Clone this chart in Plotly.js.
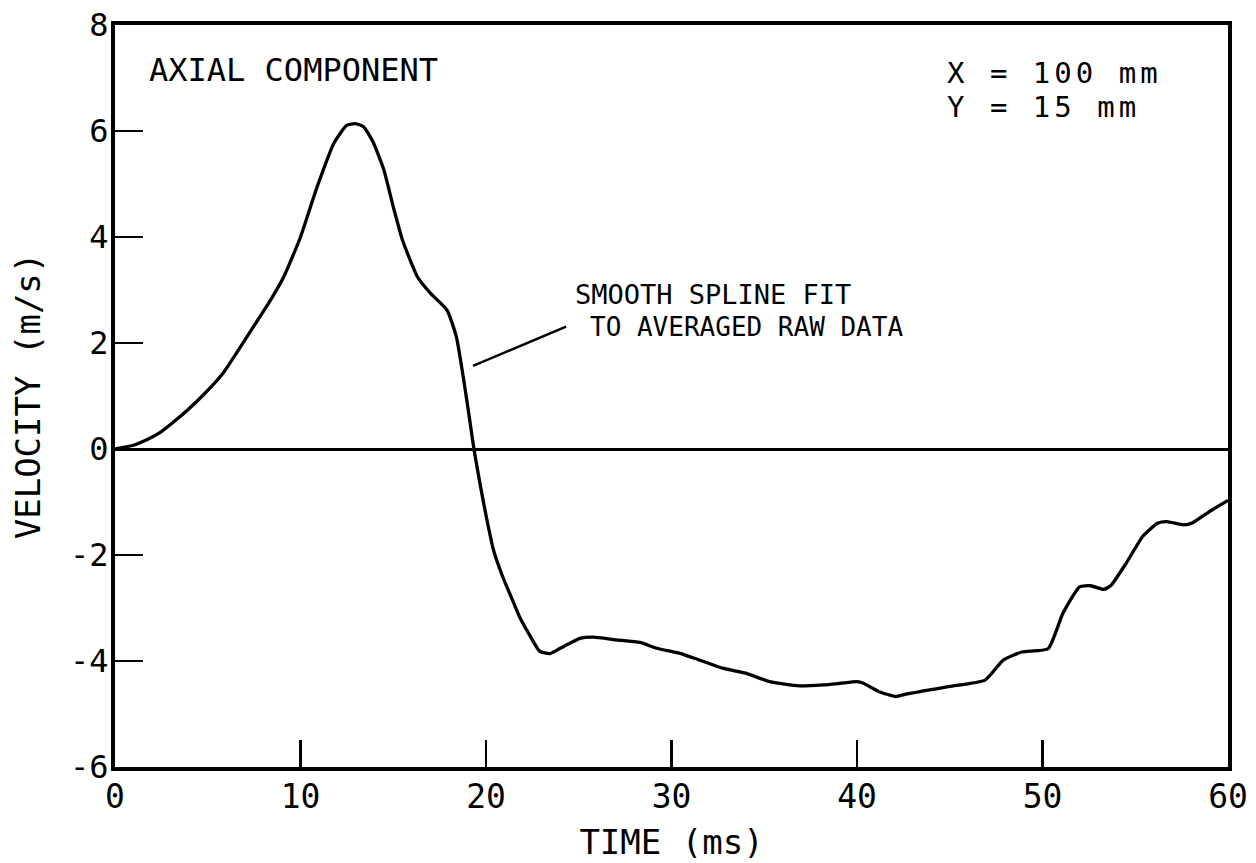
<!DOCTYPE html>
<html>
<head>
<meta charset="utf-8">
<script src="https://cdn.plot.ly/plotly-3.0.1.min.js"></script>
<style>html,body{margin:0;padding:0;background:#fff;}#chart{width:1256px;height:863px;}</style>
</head>
<body>
<div id="chart"></div>
<script>
// Time (ms)
const timeMs = [0, 1, 1.5, 2.5, 3.3, 4.5, 5.8, 7.3, 8.4, 9.1, 10.0, 10.9, 11.8, 12.5, 12.95, 13.4, 13.9, 14.5, 15.0, 15.5, 16.3, 17.0, 17.9, 18.4, 18.8, 19.15, 19.35, 19.7, 20.0, 20.4, 20.9, 21.5, 21.8, 22.4, 22.9, 23.45, 24.0, 25.1, 25.8, 27.0, 28.3, 29.2, 30.5, 31.5, 32.8, 34.0, 35.3, 36.9, 38.2, 39.1, 40.0, 40.35, 41.2, 42.1, 42.7, 43.5, 45.0, 46.9, 47.9, 48.9, 50.3, 51.1, 52.0, 52.6, 53.3, 53.7, 54.5, 55.4, 56.2, 56.7, 57.6, 58.1, 59.0, 60];
// Axial velocity (m/s)
const velocity = [0, 0.07, 0.14, 0.33, 0.55, 0.93, 1.42, 2.22, 2.82, 3.25, 4.0, 4.95, 5.77, 6.11, 6.14, 6.08, 5.8, 5.26, 4.57, 3.94, 3.25, 2.94, 2.62, 2.12, 1.3, 0.48, 0, -0.7, -1.25, -1.9, -2.41, -2.91, -3.16, -3.54, -3.82, -3.86, -3.76, -3.57, -3.55, -3.6, -3.65, -3.76, -3.86, -3.98, -4.14, -4.23, -4.39, -4.47, -4.45, -4.42, -4.39, -4.42, -4.58, -4.67, -4.62, -4.57, -4.48, -4.36, -3.98, -3.83, -3.77, -3.1, -2.6, -2.58, -2.65, -2.57, -2.16, -1.65, -1.4, -1.37, -1.43, -1.39, -1.18, -0.97];

const xTicks = [0, 10, 20, 30, 40, 50, 60];
const yTicks = [-6, -4, -2, 0, 2, 4, 6, 8];

const FONT = '"DejaVu Sans Mono", "Liberation Mono", monospace';

const trace = {
  x: timeMs, y: velocity, type: 'scatter', mode: 'lines',
  line: {color: '#000', width: 3.3, shape: 'spline', smoothing: 0.5},
  hoverinfo: 'skip', showlegend: false
};

const layout = {
  width: 1256, height: 863,
  margin: {l: 115, r: 28, t: 25, b: 96, pad: 0},
  paper_bgcolor: '#fff', plot_bgcolor: '#fff',
  font: {family: FONT, color: '#000'},
  showlegend: false,
  xaxis: {
    range: [0, 60], tickvals: xTicks, ticktext: xTicks.map(String),
    ticks: 'inside', ticklen: 27, tickwidth: 2.5, tickcolor: '#000',
    showline: true, linecolor: '#000', linewidth: 4, mirror: true,
    showgrid: false, zeroline: false,
    tickfont: {family: FONT, size: 33, color: '#000'},
    ticklabelstandoff: -3,
    title: {text: 'TIME (ms)', font: {family: FONT, size: 34, color: '#000'}, standoff: 17}
  },
  yaxis: {
    range: [-6, 8], tickvals: yTicks, ticktext: yTicks.map(v => v < 0 ? '-' + Math.abs(v) : String(v)),
    ticks: 'inside', ticklen: 28, tickwidth: 2.5, tickcolor: '#000',
    showline: true, linecolor: '#000', linewidth: 4, mirror: true,
    showgrid: false, zeroline: true, zerolinecolor: '#000', zerolinewidth: 3,
    tickfont: {family: FONT, size: 32, color: '#000'},
    ticklabelstandoff: -4,
    title: {text: 'VELOCITY (m/s)', font: {family: FONT, size: 34, color: '#000'}, standoff: 20}
  },
  annotations: [
    {x: 1.7, y: 7.15, xref: 'x', yref: 'y', text: 'AXIAL COMPONENT', showarrow: false,
     xanchor: 'left', yanchor: 'middle', font: {family: FONT, size: 32, color: '#000'}},
    {x: 44.75, y: 7.1, xref: 'x', yref: 'y', text: '<span style="letter-spacing:4px">X = 100 mm</span>', showarrow: false,
     xanchor: 'left', yanchor: 'middle', font: {family: FONT, size: 29, color: '#000'}},
    {x: 44.75, y: 6.45, xref: 'x', yref: 'y', text: '<span style="letter-spacing:4px">Y = 15 mm</span>', showarrow: false,
     xanchor: 'left', yanchor: 'middle', font: {family: FONT, size: 29, color: '#000'}},
    {x: 24.7, y: 2.92, xref: 'x', yref: 'y', text: 'SMOOTH SPLINE FIT', showarrow: false,
     xanchor: 'left', yanchor: 'middle', font: {family: FONT, size: 27, color: '#000'}},
    {x: 25.5, y: 2.3, xref: 'x', yref: 'y', text: 'TO AVERAGED RAW DATA', showarrow: false,
     xanchor: 'left', yanchor: 'middle', font: {family: FONT, size: 26, color: '#000'}},
    {x: 19.3, y: 1.57, xref: 'x', yref: 'y', ax: 24.4, ay: 2.32, axref: 'x', ayref: 'y',
     text: '', showarrow: true, arrowhead: 0, arrowwidth: 2.5, arrowcolor: '#000', standoff: 0, startstandoff: 0}
  ]
};

Plotly.newPlot('chart', [trace], layout, {displayModeBar: false, staticPlot: true});
</script>
</body>
</html>
